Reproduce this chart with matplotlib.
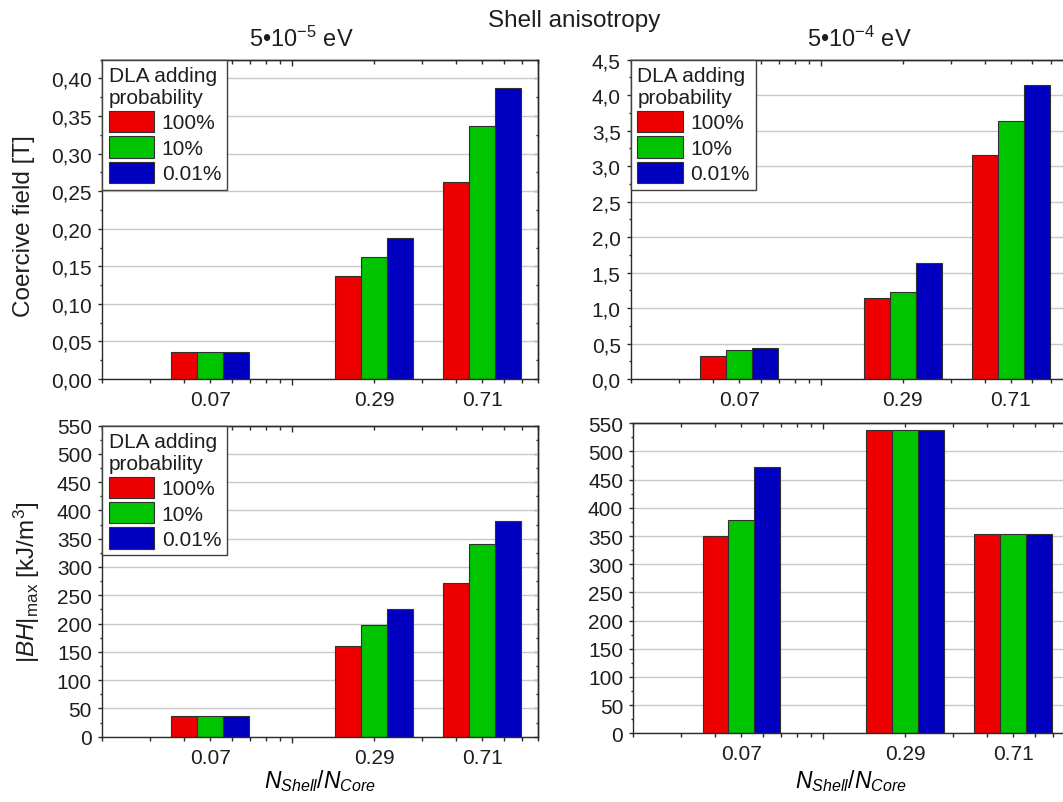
import numpy as np
import matplotlib
matplotlib.use('Agg')
import matplotlib.pyplot as plt
from matplotlib.ticker import MultipleLocator, LogLocator, FuncFormatter, NullFormatter

plt.rcParams['font.family'] = ['Liberation Sans', 'DejaVu Sans']
plt.rcParams['mathtext.fontset'] = 'custom'
plt.rcParams['mathtext.rm'] = 'Liberation Sans'
plt.rcParams['mathtext.it'] = 'Liberation Sans:italic'
plt.rcParams['mathtext.bf'] = 'Liberation Sans:bold'
plt.rcParams['axes.linewidth'] = 1.0
plt.rcParams['axes.edgecolor'] = '#2a2a2a'
plt.rcParams['text.color'] = '#1e1e1e'
plt.rcParams['xtick.color'] = '#2a2a2a'
plt.rcParams['ytick.color'] = '#2a2a2a'
plt.rcParams['xtick.labelcolor'] = '#1e1e1e'
plt.rcParams['ytick.labelcolor'] = '#1e1e1e'

# N_Shell/N_Core categories and where the groups sit on the log axis
categories = ['0.07', '0.29', '0.71']
xpos = [0.05, 0.2, 0.5]
series = ['100%', '10%', '0.01%']
colors = ['#ee0000', '#00c400', '#0000c0']

# coercive field [T], shell anisotropy 5e-5 eV
hc_5e5_100 = [0.036, 0.137, 0.262]
hc_5e5_10 = [0.036, 0.162, 0.337]
hc_5e5_001 = [0.036, 0.187, 0.388]
# coercive field [T], 5e-4 eV
hc_5e4_100 = [0.33, 1.14, 3.16]
hc_5e4_10 = [0.41, 1.23, 3.64]
hc_5e4_001 = [0.43, 1.63, 4.14]
# |BH|max [kJ/m3], 5e-5 eV
bh_5e5_100 = [37, 161, 272]
bh_5e5_10 = [37, 197, 341]
bh_5e5_001 = [37, 225, 381]
# |BH|max [kJ/m3], 5e-4 eV
bh_5e4_100 = [350, 538, 353]
bh_5e4_10 = [378, 538, 353]
bh_5e4_001 = [473, 538, 353]

bw = 0.0956  # bar width in decades


def cat_label(v, p):
    for x, lab in zip(xpos, categories):
        if abs(np.log10(v) - np.log10(x)) < 1e-3:
            return lab
    return ''


def panel(ax, values, ymax, ystep, fmt, legend=True):
    ax.set_xscale('log')
    ax.set_xlim(0.02, 0.8)
    ax.set_ylim(0, ymax)
    for i, vals in enumerate(values):
        lc = np.log10(xpos) + (i - 1.5) * bw
        left = 10 ** lc
        right = 10 ** (lc + bw)
        ax.bar(left, vals, width=right - left, align='edge', color=colors[i],
               edgecolor='#303030', linewidth=0.8, label=series[i])
    ax.set_axisbelow(True)
    ax.yaxis.grid(True, which='major', color='#c8c8c8', lw=1.0)

    ax.xaxis.set_major_locator(LogLocator(base=10))
    ax.xaxis.set_minor_locator(LogLocator(base=10, subs=np.arange(2, 10), numticks=20))
    ax.xaxis.set_major_formatter(NullFormatter())
    ax.xaxis.set_minor_formatter(FuncFormatter(cat_label))
    ax.yaxis.set_major_locator(MultipleLocator(ystep))
    ax.yaxis.set_minor_locator(MultipleLocator(ystep / 2))
    ax.yaxis.set_major_formatter(FuncFormatter(fmt))

    ax.tick_params(axis='x', which='major', direction='out', length=4.3, width=1, labelsize=15)
    ax.tick_params(axis='x', which='minor', direction='out', length=2.9, width=1, labelsize=15, pad=5)
    ax.tick_params(axis='y', which='major', direction='out', length=2.9, width=1, labelsize=15, pad=4.5)
    ax.tick_params(axis='y', which='minor', direction='out', length=1.8, width=1)

    sx = ax.secondary_xaxis('top')
    sx.xaxis.set_major_locator(LogLocator(base=10))
    sx.xaxis.set_minor_locator(LogLocator(base=10, subs=np.arange(2, 10), numticks=20))
    sx.xaxis.set_major_formatter(NullFormatter())
    sx.xaxis.set_minor_formatter(NullFormatter())
    sx.tick_params(which='major', direction='in', length=4.3, width=1)
    sx.tick_params(which='minor', direction='in', length=2.9, width=1)

    sy = ax.secondary_yaxis('right')
    sy.yaxis.set_major_locator(MultipleLocator(ystep))
    sy.yaxis.set_minor_locator(MultipleLocator(ystep / 2))
    sy.yaxis.set_major_formatter(NullFormatter())
    sy.tick_params(which='major', direction='in', length=2.9, width=1)
    sy.tick_params(which='minor', direction='in', length=1.8, width=1)

    if legend:
        leg = ax.legend(loc='upper left', title='DLA adding\nprobability', alignment='left',
                        fontsize=15, title_fontsize=15, fancybox=False, framealpha=1,
                        edgecolor='#404040', borderaxespad=0, borderpad=0.3,
                        handlelength=2.2, handleheight=1.2, handletextpad=0.35,
                        labelspacing=0.18)
        leg.get_frame().set_linewidth(1.0)


fig = plt.figure(figsize=(10.63, 8.03), dpi=100)

ax_tl = fig.add_axes([0.0962, 0.5268, 0.4096, 0.3976])
ax_tr = fig.add_axes([0.5936, 0.5268, 0.4096, 0.3976])
ax_bl = fig.add_axes([0.0962, 0.0813, 0.4096, 0.3875])
ax_br = fig.add_axes([0.5958, 0.0855, 0.4096, 0.3861])

panel(ax_tl, [hc_5e5_100, hc_5e5_10, hc_5e5_001], 0.425, 0.05,
      lambda v, p: f'{v:.2f}'.replace('.', ','))
panel(ax_tr, [hc_5e4_100, hc_5e4_10, hc_5e4_001], 4.5, 0.5,
      lambda v, p: f'{v:.1f}'.replace('.', ','))
panel(ax_bl, [bh_5e5_100, bh_5e5_10, bh_5e5_001], 550, 50,
      lambda v, p: f'{v:.0f}')
panel(ax_br, [bh_5e4_100, bh_5e4_10, bh_5e4_001], 550, 50,
      lambda v, p: f'{v:.0f}', legend=False)

xlab = r'$N_{Shell}/N_{Core}$'
ax_bl.set_xlabel(xlab, fontsize=16.5)
ax_bl.xaxis.set_label_coords(0.5, -0.097)
ax_br.set_xlabel(xlab, fontsize=16.5)
ax_br.xaxis.set_label_coords(0.5, -0.108)

fig.text(24 / 1063, 1 - 226 / 803, 'Coercive field [T]', rotation=90,
         ha='center', va='center', fontsize=17.5)
fig.text(27 / 1063, 1 - 582 / 803, r'|$BH$|$_{\rm max}$ [kJ/m$^3$]', rotation=90,
         ha='center', va='center', fontsize=17.5)

fig.text(574 / 1063, 1 - 26.7 / 803, 'Shell anisotropy', ha='center', va='baseline', fontsize=17.5)
fig.text(301 / 1063, 1 - 46.7 / 803, r'5•10$^{-5}$ eV', ha='center', va='baseline', fontsize=17)
fig.text(859 / 1063, 1 - 46.7 / 803, r'5•10$^{-4}$ eV', ha='center', va='baseline', fontsize=17)

fig.savefig('out.png', dpi=100)
